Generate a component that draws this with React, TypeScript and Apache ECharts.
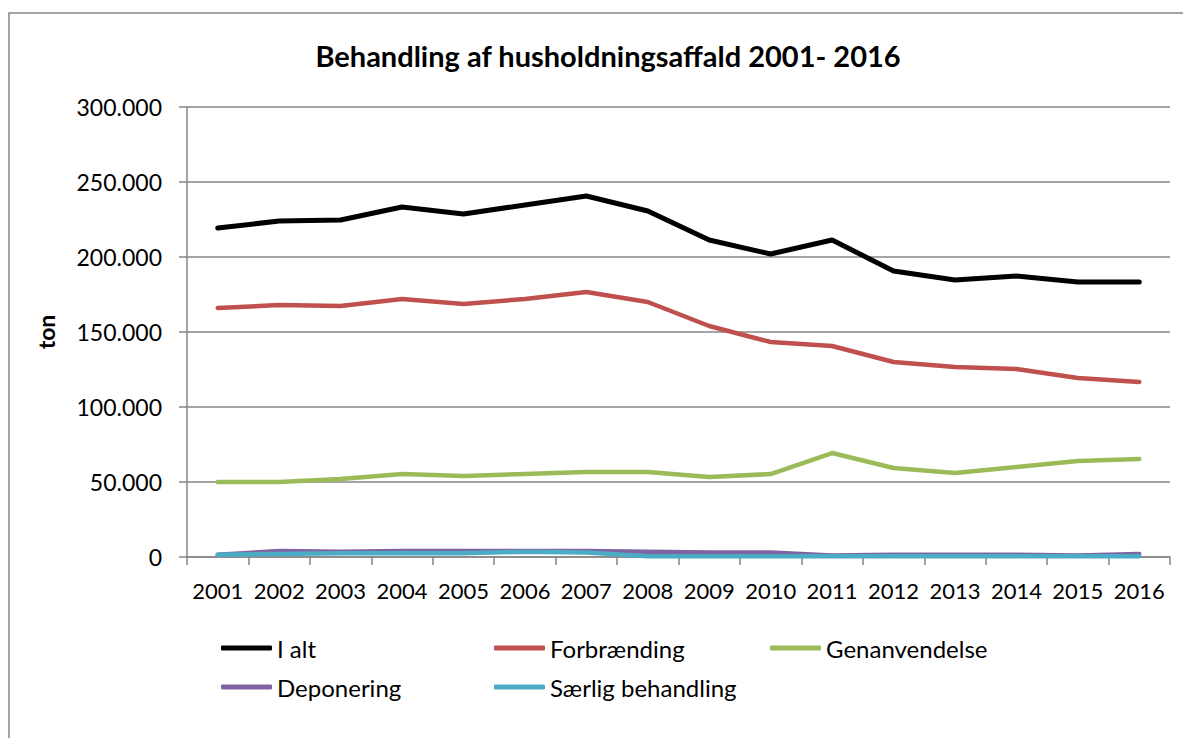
import React, { useEffect, useRef } from "react";
import * as echarts from "echarts";

const years = ["2001","2002","2003","2004","2005","2006","2007","2008","2009","2010","2011","2012","2013","2014","2015","2016"];
const iAlt = [219300,224000,224700,233300,228700,234700,240700,230700,211300,202000,211300,190700,184700,187300,183300,183300];
const forbraending = [166000,168000,167300,172000,168700,172000,176700,170000,154000,143300,140700,130000,126700,125300,119300,116700];
const genanvendelse = [50000,50000,52000,55300,54000,55300,56700,56700,53300,55300,69300,59300,56000,60000,64000,65300];
const deponering = [1500,4000,3500,4000,4000,4000,4000,3500,3000,3000,1000,1500,1500,1500,1000,2000];
const saerlig = [1500,2000,2500,2500,2500,3500,3000,500,500,500,500,500,500,500,500,500];

const FONT = "Lato";

export default function App() {
  const ref = useRef<HTMLDivElement>(null);
  useEffect(() => {
    if (!ref.current) return;
    const chart = echarts.init(ref.current, undefined, { renderer: "svg" });
    const mk = (name: string, data: number[], color: string, width: number) => ({
      name,
      type: "line",
      data,
      symbol: "none",
      lineStyle: { color, width, cap: "round", join: "round" },
      itemStyle: { color },
    });
    const legendBase = {
      top: 631, orient: "vertical", itemGap: 15,
      itemWidth: 51, itemHeight: 5, icon: "roundRect",
      textStyle: { fontFamily: FONT, fontSize: 24, color: "#000" },
    };
    chart.setOption({
      animation: false,
      backgroundColor: "#ffffff",
      title: {
        text: "Behandling af husholdningsaffald 2001- 2016",
        left: 603,
        textAlign: "center",
        top: 36,
        textStyle: { fontFamily: FONT, fontWeight: "bold", fontSize: 29, color: "#000" },
      },
      graphic: [
        {
          type: "rect",
          shape: { x: 9, y: 13, width: 1200, height: 760 },
          style: { fill: "none", stroke: "#868686", lineWidth: 1.5 },
          silent: true,
        },
      ],
      legend: [
        { ...legendBase, left: 216, data: ["I alt", "Deponering"] },
        { ...legendBase, left: 489, data: ["Forbrænding", "Særlig behandling"] },
        { ...legendBase, left: 765, data: ["Genanvendelse"] },
      ],
      grid: { left: 187, right: 13, top: 107, bottom: 181, containLabel: false },
      xAxis: {
        type: "category",
        data: years,
        boundaryGap: true,
        axisLine: { lineStyle: { color: "#868686", width: 1.5 } },
        axisTick: { show: true, length: 8, lineStyle: { color: "#868686", width: 1.5 } },
        axisLabel: { fontFamily: FONT, fontSize: 22, color: "#000", margin: 22, interval: 0 },
      },
      yAxis: {
        type: "value",
        min: 0,
        max: 300000,
        interval: 50000,
        name: "ton",
        nameLocation: "middle",
        nameGap: 130,
        nameTextStyle: { fontFamily: FONT, fontSize: 23, fontWeight: "bold", color: "#000" },
        axisLine: { show: true, lineStyle: { color: "#868686", width: 1.5 } },
        axisTick: { show: true, length: 8, lineStyle: { color: "#868686", width: 1.5 } },
        splitLine: { lineStyle: { color: "#868686", width: 1.5 } },
        axisLabel: {
          fontFamily: FONT, fontSize: 23, color: "#000", margin: 25,
          formatter: (v: number) => (v === 0 ? "0" : v.toString().replace(/\B(?=(\d{3})+(?!\d))/g, ".")),
        },
      },
      series: [
        mk("I alt", iAlt, "#000000", 5),
        mk("Forbrænding", forbraending, "#C0504D", 4.5),
        mk("Genanvendelse", genanvendelse, "#9BBB59", 4.5),
        mk("Deponering", deponering, "#8064A2", 4.5),
        mk("Særlig behandling", saerlig, "#4BACC6", 4.5),
      ],
    });
    return () => chart.dispose();
  }, []);
  return (
    <div
      ref={ref}
      style={{ position: "fixed", left: 0, top: 0, width: 1183, height: 738 }}
    />
  );
}
